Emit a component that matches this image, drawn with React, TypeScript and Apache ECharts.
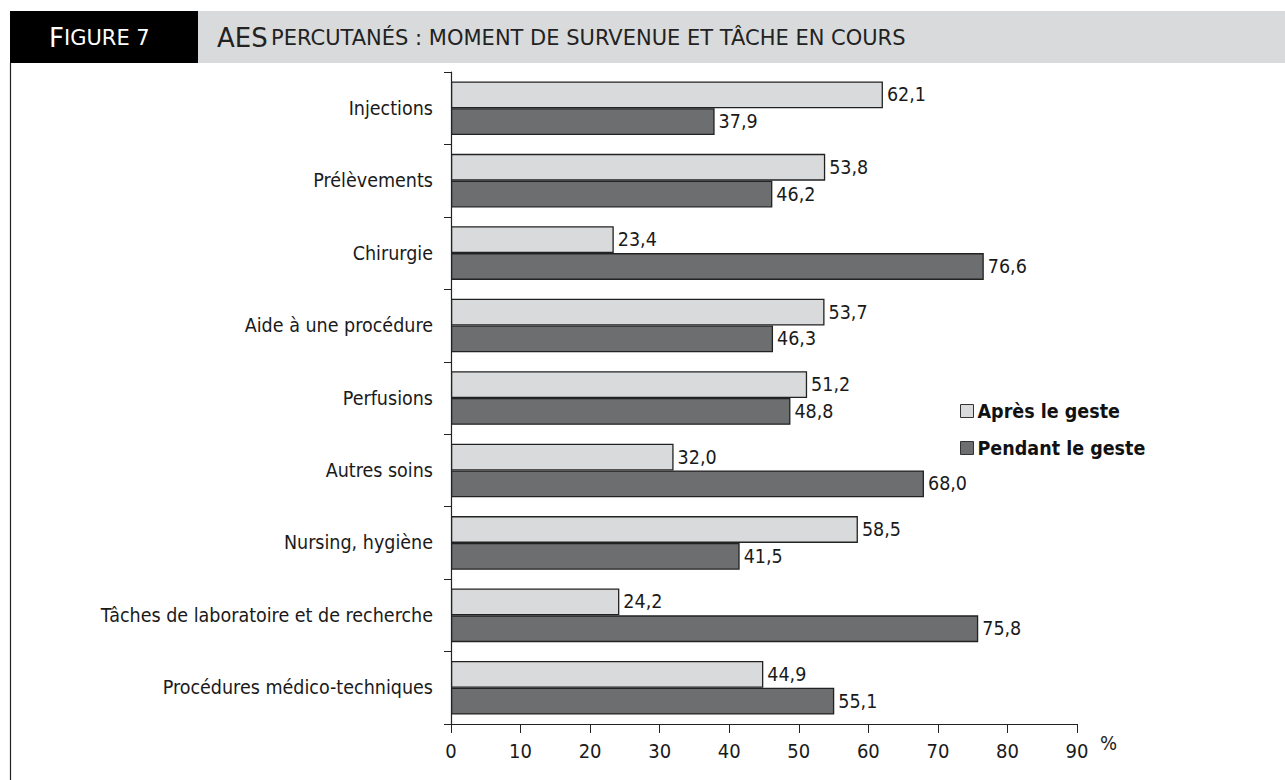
import React, { useEffect, useRef } from "react";
import * as echarts from "echarts";

const categories = [
  "Injections",
  "Prélèvements",
  "Chirurgie",
  "Aide à une procédure",
  "Perfusions",
  "Autres soins",
  "Nursing, hygiène",
  "Tâches de laboratoire et de recherche",
  "Procédures médico-techniques",
];
const apres = [62.1, 53.8, 23.4, 53.7, 51.2, 32.0, 58.5, 24.2, 44.9];
const pendant = [37.9, 46.2, 76.6, 46.3, 48.8, 68.0, 41.5, 75.8, 55.1];
const seriesNames = ["Après le geste", "Pendant le geste"];
const FONT = "DejaVu Sans Condensed";
const HFONT = "DejaVu Sans";

export default function App() {
  const ref = useRef<HTMLDivElement>(null);
  useEffect(() => {
    if (!ref.current) return;
    const chart = echarts.init(ref.current, null, { renderer: "svg" });
    const fmt = (p: any) => Number(p.value).toFixed(1).replace(".", ",");
    const label = {
      show: true,
      position: "right",
      distance: 3,
      formatter: fmt,
      fontFamily: FONT,
      fontSize: 19.5,
      color: "#1a1a1a",
      backgroundColor: "#fff",
      padding: [2, 2, 0, 1],
    };
    chart.setOption({
      animation: false,
      textStyle: { fontFamily: FONT },
      grid: { left: 451, right: 208, top: 72, bottom: 56, containLabel: false },
      legend: {
        orient: "vertical",
        left: 955,
        top: 396,
        itemGap: 17,
        itemWidth: 13,
        itemHeight: 13,
        icon: "rect",
        itemStyle: { borderColor: "#333", borderWidth: 1 },
        textStyle: { fontFamily: FONT, fontSize: 19.5, fontWeight: "bold", color: "#111", padding: [0, 0, 0, -1] },
        data: seriesNames,
      },
      xAxis: {
        type: "value",
        min: 0,
        max: 90,
        interval: 10,
        splitLine: { show: false },
        axisLine: { show: true, lineStyle: { color: "#222", width: 1.2 } },
        axisTick: { show: true, length: 9, lineStyle: { color: "#222" } },
        axisLabel: { fontFamily: FONT, fontSize: 20, color: "#1a1a1a", margin: 17 },
      },
      yAxis: {
        type: "category",
        inverse: true,
        data: categories,
        axisLine: { show: true, lineStyle: { color: "#222", width: 1.2 } },
        axisTick: { show: true, length: 7, lineStyle: { color: "#222" } },
        axisLabel: { fontFamily: FONT, fontSize: 19.5, color: "#1a1a1a", margin: 18 },
      },
      series: [
        {
          name: seriesNames[0],
          type: "bar",
          data: apres,
          barGap: "0%",
          barCategoryGap: "26%",
          itemStyle: { color: "#d9dadb", borderColor: "#222", borderWidth: 1.3 },
          label,
        },
        {
          name: seriesNames[1],
          type: "bar",
          data: pendant,
          barGap: "0%",
          barCategoryGap: "26%",
          itemStyle: { color: "#6d6e70", borderColor: "#222", borderWidth: 1.3 },
          label,
        },
      ],
      graphic: [
        { type: "rect", shape: { x: 198, y: 11, width: 1087, height: 52 }, style: { fill: "#d9dadb" }, silent: true },
        { type: "rect", shape: { x: 10, y: 11, width: 188, height: 52 }, style: { fill: "#000" }, silent: true },
        { type: "line", shape: { x1: 10.5, y1: 63, x2: 10.5, y2: 780 }, style: { stroke: "#222", lineWidth: 1.2 }, silent: true },
        {
          type: "text",
          x: 49,
          y: 38,
          z: 10,
          style: {
            text: "{b|F}{s|IGURE 7}",
            fill: "#fff",
            verticalAlign: "middle",
            rich: {
              b: { fontFamily: HFONT, fontSize: 26, fill: "#fff", color: "#fff" },
              s: { fontFamily: HFONT, fontSize: 21, fill: "#fff", color: "#fff" },
            },
          },
        },
        {
          type: "text",
          x: 217,
          y: 38,
          z: 10,
          style: {
            text: "{b|AES} {s|PERCUTANÉS : MOMENT DE SURVENUE ET TÂCHE EN COURS}",
            fill: "#222",
            verticalAlign: "middle",
            rich: {
              b: { fontFamily: HFONT, fontSize: 26, fill: "#222" },
              s: { fontFamily: HFONT, fontSize: 21, fill: "#222" },
            },
          },
        },
        {
          type: "text",
          x: 1100,
          y: 743,
          style: { text: "%", fontFamily: FONT, fontSize: 20, fill: "#1a1a1a", verticalAlign: "middle" },
        },
      ],
    });
    return () => chart.dispose();
  }, []);
  return <div ref={ref} style={{ position: "absolute", left: 0, top: 0, width: 1285, height: 780 }} />;
}
